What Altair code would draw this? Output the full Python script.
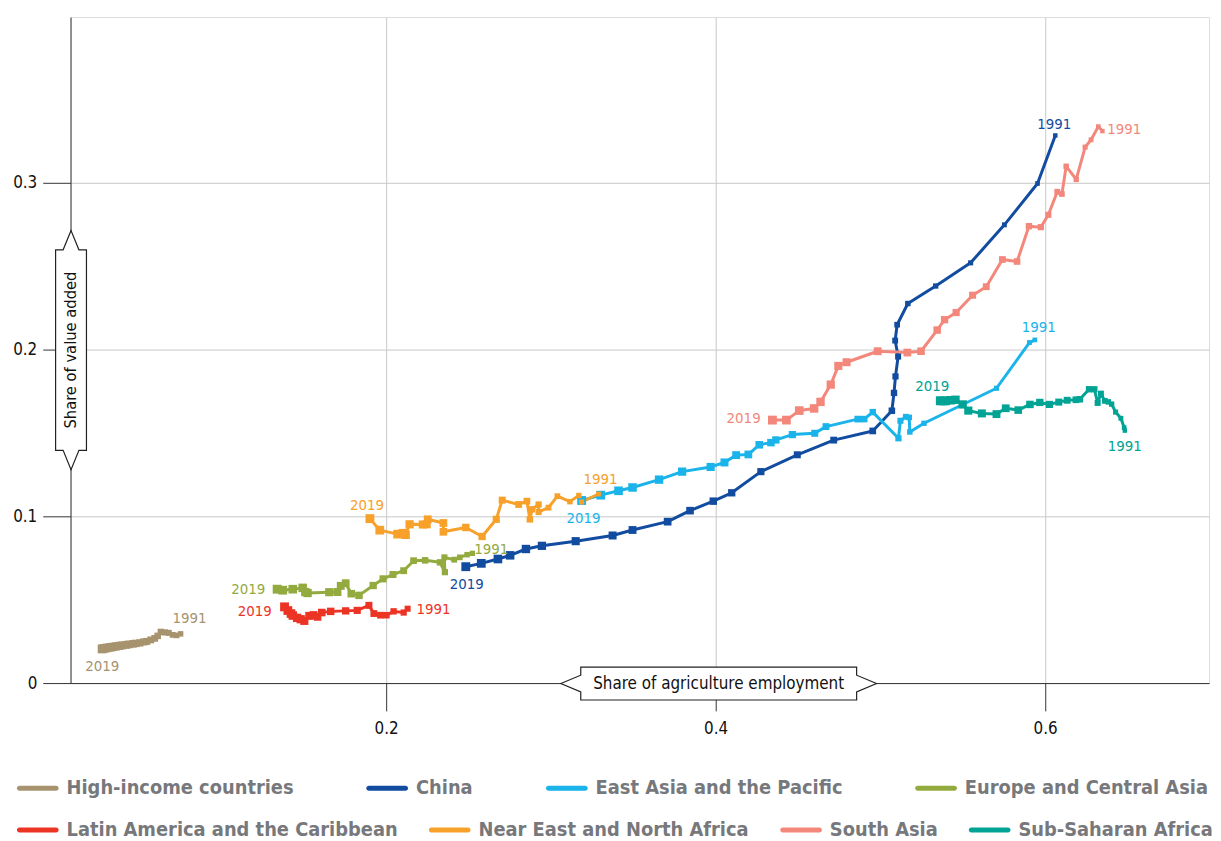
import altair as alt
import pandas as pd

FONT = "DejaVu Sans Condensed, Liberation Sans Narrow, sans-serif"

SERIES = ["High-income countries", "China", "East Asia and the Pacific", "Europe and Central Asia",
          "Latin America and the Caribbean", "Near East and North Africa", "South Asia", "Sub-Saharan Africa"]
COLORS = ["#a8936f", "#124ca0", "#1ab3ea", "#93aa3f", "#ec3425", "#f7a12b", "#f3877b", "#00a394"]
LINE_W = [3, 3, 2.2, 1.6, 3, 2.6, 2, 2.4]
ROW1 = SERIES[:4]
ROW2 = SERIES[4:]

# Values listed from 1991 (first) to 2019 (last); x = share of agriculture employment, y = share of value added
hic_x = [0.0753, 0.0729, 0.0705, 0.0681, 0.0657, 0.0633, 0.0614, 0.0596, 0.0572, 0.0548, 0.0530, 0.0506,
         0.0482, 0.0464, 0.0440, 0.0422, 0.0398, 0.0380, 0.0361, 0.0343, 0.0325, 0.0307, 0.0289, 0.0277]
hic_y = [0.0295, 0.0286, 0.0289, 0.0301, 0.0304, 0.0307, 0.0283, 0.0268, 0.0259, 0.0250, 0.0247, 0.0241,
         0.0238, 0.0235, 0.0232, 0.0229, 0.0226, 0.0223, 0.0220, 0.0217, 0.0214, 0.0211, 0.0208, 0.0205]

chn_x = [0.6062, 0.5954, 0.5753, 0.5548, 0.5336, 0.5167, 0.5102, 0.5090, 0.5108, 0.5092, 0.5083, 0.5070,
         0.4954, 0.4717, 0.4496, 0.4275, 0.4098, 0.3986, 0.3845, 0.3709, 0.3496, 0.3375, 0.3151, 0.2946,
         0.2849, 0.2753, 0.2679, 0.2578, 0.2484]
chn_y = [0.3284, 0.2996, 0.2748, 0.2520, 0.2381, 0.2276, 0.2149, 0.2054, 0.1958, 0.1839, 0.1740, 0.1633,
         0.1512, 0.1457, 0.1369, 0.1268, 0.1141, 0.1091, 0.1034, 0.0968, 0.0918, 0.0885, 0.0851, 0.0823,
         0.0804, 0.0766, 0.0744, 0.0718, 0.0698]

eap_x = [0.5938, 0.5905, 0.5705, 0.5265, 0.5179, 0.5175, 0.5155, 0.5122, 0.5110, 0.4954, 0.4902, 0.4863,
         0.4670, 0.4602, 0.4466, 0.4366, 0.4336, 0.4265, 0.4199, 0.4125, 0.4054, 0.3970, 0.3797, 0.3657,
         0.3496, 0.3411, 0.3303, 0.3187]
eap_y = [0.2058, 0.2042, 0.1768, 0.1558, 0.1506, 0.1593, 0.1597, 0.1573, 0.1468, 0.1625, 0.1583, 0.1583,
         0.1538, 0.1498, 0.1490, 0.1458, 0.1442, 0.1429, 0.1371, 0.1367, 0.1323, 0.1296, 0.1268, 0.1220,
         0.1173, 0.1153, 0.1127, 0.1095]

eca_x = [0.2524, 0.2492, 0.2448, 0.2414, 0.2354, 0.2357, 0.2327, 0.2237, 0.2167, 0.2107, 0.2042, 0.1982,
         0.1922, 0.1836, 0.1789, 0.1755, 0.1725, 0.1705, 0.1655, 0.1524, 0.1510, 0.1494, 0.1434, 0.1373,
         0.1339]
eca_y = [0.0778, 0.0770, 0.0754, 0.0740, 0.0754, 0.0665, 0.0724, 0.0736, 0.0734, 0.0674, 0.0651, 0.0625,
         0.0585, 0.0526, 0.0536, 0.0599, 0.0583, 0.0546, 0.0545, 0.0540, 0.0546, 0.0571, 0.0563, 0.0557,
         0.0563]

lac_x = [0.2131, 0.2107, 0.2046, 0.2002, 0.1966, 0.1926, 0.1896, 0.1825, 0.1755, 0.1664, 0.1610, 0.1584,
         0.1560, 0.1534, 0.1504, 0.1482, 0.1460, 0.1434, 0.1423, 0.1404, 0.1384]
lac_y = [0.0446, 0.0423, 0.0430, 0.0407, 0.0407, 0.0417, 0.0466, 0.0436, 0.0433, 0.0430, 0.0423, 0.0397,
         0.0408, 0.0403, 0.0373, 0.0383, 0.0391, 0.0405, 0.0417, 0.0435, 0.0457]

nen_x = [0.3289, 0.3187, 0.3170, 0.3116, 0.3040, 0.2986, 0.2926, 0.2926, 0.2886, 0.2873, 0.2855, 0.2805,
         0.2705, 0.2669, 0.2583, 0.2484, 0.2348, 0.2348, 0.2253, 0.2247, 0.2223, 0.2143, 0.2119, 0.2102,
         0.2070, 0.1962, 0.1902]
nen_y = [0.1134, 0.1086, 0.1125, 0.1088, 0.1121, 0.1052, 0.1026, 0.1071, 0.1042, 0.0982, 0.1091, 0.1071,
         0.1097, 0.0982, 0.0879, 0.0933, 0.0907, 0.0960, 0.0982, 0.0952, 0.0951, 0.0952, 0.0889, 0.0899,
         0.0893, 0.0917, 0.0986]

sas_x = [0.6348, 0.6323, 0.6279, 0.6243, 0.6189, 0.6128, 0.6102, 0.6074, 0.6020, 0.5974, 0.5902, 0.5830,
         0.5741, 0.5643, 0.5560, 0.5460, 0.5390, 0.5345, 0.5247, 0.5164, 0.4984, 0.4795, 0.4745, 0.4699,
         0.4637, 0.4598, 0.4508, 0.4430, 0.4345]
sas_y = [0.3310, 0.3337, 0.3258, 0.3214, 0.3020, 0.3099, 0.2933, 0.2946, 0.2808, 0.2734, 0.2740, 0.2528,
         0.2540, 0.2377, 0.2326, 0.2222, 0.2179, 0.2117, 0.1990, 0.1982, 0.1990, 0.1924, 0.1902, 0.1790,
         0.1686, 0.1647, 0.1634, 0.1577, 0.1577]

ssa_x = [0.6484, 0.6480, 0.6460, 0.6428, 0.6404, 0.6384, 0.6363, 0.6339, 0.6319, 0.6299, 0.6267, 0.6211,
         0.6187, 0.6134, 0.6083, 0.6026, 0.5968, 0.5908, 0.5837, 0.5761, 0.5705, 0.5616, 0.5534, 0.5500,
         0.5456, 0.5426, 0.5396, 0.5380, 0.5364]
ssa_y = [0.1514, 0.1532, 0.1588, 0.1625, 0.1673, 0.1686, 0.1692, 0.1736, 0.1680, 0.1762, 0.1762, 0.1702,
         0.1699, 0.1696, 0.1685, 0.1671, 0.1683, 0.1671, 0.1637, 0.1648, 0.1613, 0.1617, 0.1634, 0.1671,
         0.1699, 0.1696, 0.1692, 0.1692, 0.1693]

SERIES_DATA = {
    "High-income countries": (hic_x, hic_y),
    "China": (chn_x, chn_y),
    "East Asia and the Pacific": (eap_x, eap_y),
    "Europe and Central Asia": (eca_x, eca_y),
    "Latin America and the Caribbean": (lac_x, lac_y),
    "Near East and North Africa": (nen_x, nen_y),
    "South Asia": (sas_x, sas_y),
    "Sub-Saharan Africa": (ssa_x, ssa_y),
}

# pixel offsets (label centre relative to its end point) of the "1991" / "2019" labels
LABEL_OFFSETS = {
    "High-income countries": {"1991": (9, -16), "2019": (0, 17)},
    "China": {"1991": (-1, -11), "2019": (1, 17)},
    "East Asia and the Pacific": {"1991": (4, -13), "2019": (2, 18)},
    "Europe and Central Asia": {"1991": (19, -4), "2019": (-29, 0)},
    "Latin America and the Caribbean": {"1991": (26, 0), "2019": (-30, 4)},
    "Near East and North Africa": {"1991": (2, -15), "2019": (-3, -14)},
    "South Asia": {"1991": (22, -2), "2019": (-29, -2)},
    "Sub-Saharan Africa": {"1991": (0, 16), "2019": (-8, -15)},
}

W, H = 1147, 671
XD = [0.0085, 0.6995]
YD = [0.0, 0.3994]
PX_X = (XD[1] - XD[0]) / W
PX_Y = (YD[1] - YD[0]) / H

rows = []
labels = []
for name, (xs, ys) in SERIES_DATA.items():
    n = len(xs)
    years = list(range(2020 - n, 2020))
    for x, y, yr in zip(xs, ys, years):
        rows.append({"series": name, "emp": x, "va": y, "year": yr})
    for tag, idx in (("1991", 0), ("2019", n - 1)):
        dx, dy = LABEL_OFFSETS[name][tag]
        labels.append({"series": name, "emp": xs[idx] + dx * PX_X, "va": ys[idx] - dy * PX_Y, "label": tag})

df = pd.DataFrame(rows)
lab = pd.DataFrame(labels)

xscale = alt.Scale(domain=XD, nice=False, zero=False)
yscale = alt.Scale(domain=YD, nice=False, zero=False)
cscale = alt.Scale(domain=SERIES, range=COLORS)

xax = alt.Axis(values=[0.2, 0.4, 0.6], format=".1f", title=None, tickSize=28, tickColor="#333",
               domainColor="#333", gridColor="#c8c8c8", labelFontSize=17, labelFont=FONT,
               labelColor="#111", labelPadding=10)
yax = alt.Axis(values=[0, 0.1, 0.2, 0.3], labelExpr="datum.value == 0 ? '0' : format(datum.value, '.1f')",
               title=None, tickSize=28, tickColor="#333", domainColor="#333", gridColor="#c8c8c8",
               labelFontSize=17, labelFont=FONT, labelColor="#111", labelPadding=6)

CAPSULE = "M -0.5 -0.5 L 6.9 -0.5 A 0.5 0.5 0 0 1 6.9 0.5 L -0.5 0.5 A 0.5 0.5 0 0 1 -0.5 -0.5 Z"


def legend_row(values, y, pad):
    return alt.Legend(title=None, values=values, orient="none", legendX=-59, legendY=y,
                      direction="horizontal", columns=4, columnPadding=pad,
                      symbolType=CAPSULE, symbolSize=100, symbolStrokeWidth=0,
                      labelFontSize=20, labelFont=FONT, labelFontWeight="bold", labelColor="#77787b",
                      labelOffset=35, labelLimit=0)


base = alt.Chart(df)

lines = base.mark_line(strokeJoin="round").encode(
    x=alt.X("emp:Q", scale=xscale, axis=xax),
    y=alt.Y("va:Q", scale=yscale, axis=yax),
    stroke=alt.Stroke("series:N", scale=cscale, legend=None),
    detail="series:N",
    order="year:Q",
    strokeWidth=alt.StrokeWidth("series:N", scale=alt.Scale(domain=SERIES, range=LINE_W), legend=None),
)

points = base.mark_point(shape="square", filled=True, opacity=1).encode(
    x="emp:Q",
    y="va:Q",
    fill=alt.Fill("series:N", scale=cscale, legend=legend_row(ROW1, 767, 68)),
    size=alt.Size("year:Q", scale=alt.Scale(domain=[1991, 2019], range=[20, 80]), legend=None),
)

texts = alt.Chart(lab).mark_text(fontSize=15, font=FONT, baseline="middle", align="center").encode(
    x="emp:Q",
    y="va:Q",
    text="label:N",
    color=alt.Color("series:N", scale=cscale, legend=legend_row(ROW2, 809, 26)),
)

XPATH = ("M -1 0 L -0.874 -0.053 L -0.874 -0.104 L 0.874 -0.104 L 0.874 -0.053 L 1 0 "
         "L 0.874 0.053 L 0.874 0.104 L -0.874 0.104 L -0.874 0.053 Z")
YPATH = ("M 0 -1 L -0.066 -0.838 L -0.129 -0.838 L -0.129 0.838 L -0.066 0.838 L 0 1 "
         "L 0.066 0.838 L 0.129 0.838 L 0.129 -0.838 L 0.066 -0.838 Z")

xt = alt.Chart(pd.DataFrame({"t": ["Share of agriculture employment"]}))
yt = alt.Chart(pd.DataFrame({"t": ["Share of value added"]}))

xbox = xt.mark_point(shape=XPATH, size=318 ** 2, filled=True, fill="white", stroke="#222",
                     strokeWidth=1.2, opacity=1).encode(x=alt.value(653), y=alt.value(671.5))
xtxt = xt.mark_text(fontSize=17, font=FONT, color="#111", baseline="middle").encode(
    x=alt.value(653), y=alt.value(672), text="t:N")
ybox = yt.mark_point(shape=YPATH, size=241 ** 2, filled=True, fill="white", stroke="#222",
                     strokeWidth=1.2, opacity=1).encode(x=alt.value(0.5), y=alt.value(335.5))
ytxt = yt.mark_text(fontSize=16.5, font=FONT, color="#111", baseline="middle", angle=270).encode(
    x=alt.value(1), y=alt.value(335.5), text="t:N")

chart = alt.layer(lines, points, texts, xbox, xtxt, ybox, ytxt).resolve_scale(
    color="independent", fill="independent"
).resolve_legend(color="independent", fill="independent").properties(
    width=W, height=H, padding={"left": 4, "top": 6, "right": 0, "bottom": 0}
).configure_view(stroke="#333", strokeWidth=1).configure(background="white")

chart.save("out.html", embed_options={"renderer": "svg", "actions": False})
